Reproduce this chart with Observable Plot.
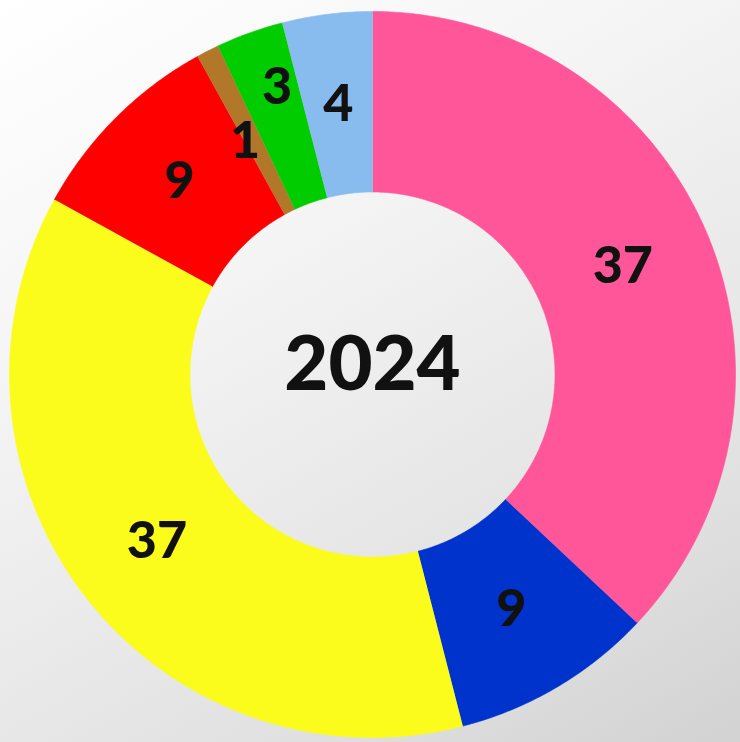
<!DOCTYPE html>
<html>
<head>
<meta charset="utf-8">
<script src="https://cdn.jsdelivr.net/npm/d3@7"></script>
<script src="https://cdn.jsdelivr.net/npm/@observablehq/plot@0.6"></script>
<style>
  html, body { margin: 0; padding: 0; }
  body { width: 740px; height: 742px; overflow: hidden;
    background: linear-gradient(150deg, #ffffff 0%, #f4f4f4 35%, #e2e2e2 75%, #d2d2d2 100%); }
  #chart { position: relative; width: 740px; height: 742px; }
  #chart svg { background: transparent !important; display: block; }
</style>
</head>
<body>
<div id="chart"></div>
<script>
// Data: seats by group, clockwise from the top
const parties = ["Group A", "Group B", "Group C", "Group D", "Group E", "Group F", "Group G"];
const seats = [37, 9, 37, 9, 1, 3, 4];
const colors = ["#ff5599", "#0033cc", "#fbfb1c", "#ff0000", "#b07828", "#00cc00", "#88bbee"];
const centerLabel = "2024";

const W = 740, H = 742;
const R = 363, cx = 372, cy = 374;   // outer radius and centre in pixels (layout)
const innerRatio = 182.5 / 363;

const pie = d3.pie().sort(null).value(d => d.seats)(parties.map((p, i) => ({party: p, seats: seats[i]})));

// Build slice polygons (in unit-radius coordinates) from the pie angles
const poly = [];
pie.forEach(s => {
  const a0 = s.startAngle, a1 = s.endAngle;
  const n = Math.max(4, Math.ceil((a1 - a0) / (Math.PI / 360)));
  for (let k = 0; k <= n; k++) {
    const a = a0 + (a1 - a0) * k / n;
    poly.push({party: s.data.party, x: Math.sin(a), y: -Math.cos(a)});
  }
  for (let k = n; k >= 0; k--) {
    const a = a0 + (a1 - a0) * k / n;
    poly.push({party: s.data.party, x: innerRatio * Math.sin(a), y: -innerRatio * Math.cos(a)});
  }
});

// Label placement: mid-ring, with small nudges for the thin slices (layout only)
const midR = (1 + innerRatio) / 2;
const nudge = {"Group E": {r: 0.975, da: -0.028}, "Group F": {r: 1.11, da: 0.025}};
const labels = pie.map(s => {
  const t = nudge[s.data.party] || {r: 1, da: 0};
  const a = (s.startAngle + s.endAngle) / 2 + t.da;
  const r = midR * t.r;
  return {party: s.data.party, seats: s.data.seats, x: r * Math.sin(a), y: -r * Math.cos(a)};
});

const chart = Plot.plot({
  width: W, height: H,
  margin: 0,
  style: {background: "transparent"},
  x: {domain: [-cx / R, (W - cx) / R], range: [0, W], axis: null},
  y: {domain: [-cy / R, (H - cy) / R], range: [0, H], axis: null},
  color: {type: "ordinal", domain: parties, range: colors},
  marks: [
    Plot.line(poly, {x: "x", y: "y", z: "party", fill: "party", stroke: "party", strokeWidth: 0.6, curve: "linear"}),
    Plot.text(labels, {x: "x", y: "y", text: d => String(d.seats), fill: "#111",
      fontFamily: "Lato", fontWeight: 900, fontSize: 52}),
    Plot.text([centerLabel], {x: () => 0, y: () => 0, dy: -9, text: d => d, fill: "#111",
      fontFamily: "Lato", fontWeight: 900, fontSize: 76})
  ]
});
document.getElementById("chart").appendChild(chart);
</script>
</body>
</html>
